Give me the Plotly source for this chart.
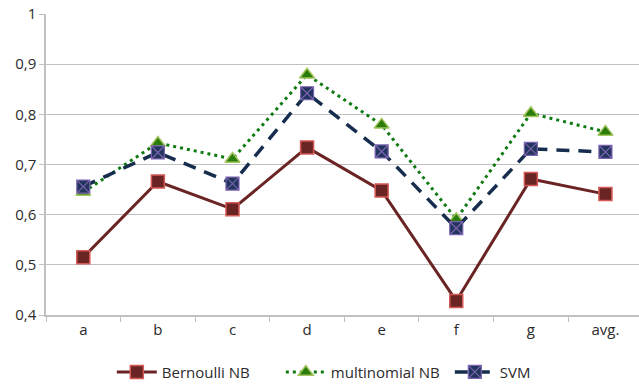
import plotly.graph_objects as go

categories = ["a", "b", "c", "d", "e", "f", "g", "avg."]
bernoulli_nb = [0.515, 0.666, 0.611, 0.734, 0.648, 0.428, 0.671, 0.641]
multinomial_nb = [0.645, 0.743, 0.711, 0.879, 0.779, 0.591, 0.802, 0.765]
svm = [0.656, 0.724, 0.662, 0.842, 0.726, 0.573, 0.731, 0.725]

y_tickvals = [0.4, 0.5, 0.6, 0.7, 0.8, 0.9, 1.0]
y_ticktext = ["0,4", "0,5", "0,6", "0,7", "0,8", "0,9", "1"]

font_family = "Open Sans, Liberation Sans, sans-serif"
grid_color = "#c0c0c0"
text_color = "#2b2b2b"

fig = go.Figure()

fig.add_trace(go.Scatter(
    x=categories, y=bernoulli_nb, name="Bernoulli NB",
    mode="lines+markers",
    line=dict(color="#6b2424", width=3),
    marker=dict(symbol="square", size=13, color="#6b2424",
                line=dict(color="#d45a55", width=1.5)),
))

fig.add_trace(go.Scatter(
    x=categories, y=multinomial_nb, name="multinomial NB",
    mode="lines+markers",
    line=dict(color="#0f7a12", width=3, dash="3px,4px"),
    marker=dict(symbol="triangle-up", size=13, color="#2a7d0c",
                line=dict(color="#a4c55e", width=1.5)),
))

fig.add_trace(go.Scatter(
    x=categories, y=svm, name="SVM",
    mode="lines+markers",
    line=dict(color="#162d4d", width=3.5, dash="13px,9px"),
    marker=dict(symbol="square-x", size=13, color="#22355c",
                line=dict(color="#7b62b0", width=1.2)),
))

fig.update_layout(
    width=639, height=385,
    margin=dict(l=46, r=0, t=14, b=70, autoexpand=False),
    paper_bgcolor="white", plot_bgcolor="white",
    font=dict(family=font_family, size=15, color=text_color),
    showlegend=True,
    legend=dict(orientation="h", xref="paper", x=0.111, xanchor="left",
                yref="paper", y=-0.19, yanchor="middle",
                font=dict(size=15, color=text_color),
                itemwidth=40, entrywidth=114, entrywidthmode="pixels",
                tracegroupgap=0),
)

fig.update_xaxes(
    type="category", range=[-0.5, 7.45],
    showgrid=False, showline=True, linecolor=grid_color, linewidth=1.5,
    ticks="outside", tickson="boundaries", ticklen=5, tickcolor=grid_color,
    tickfont=dict(size=15, color=text_color),
)

fig.update_yaxes(
    range=[0.4, 1.0], tickvals=y_tickvals, ticktext=y_ticktext,
    showgrid=True, gridcolor=grid_color, gridwidth=1,
    showline=True, linecolor=grid_color, linewidth=1.5,
    ticks="outside", ticklen=5, tickcolor=grid_color,
    tickfont=dict(size=15, color=text_color),
    zeroline=False,
)

fig.write_html("out.html")
